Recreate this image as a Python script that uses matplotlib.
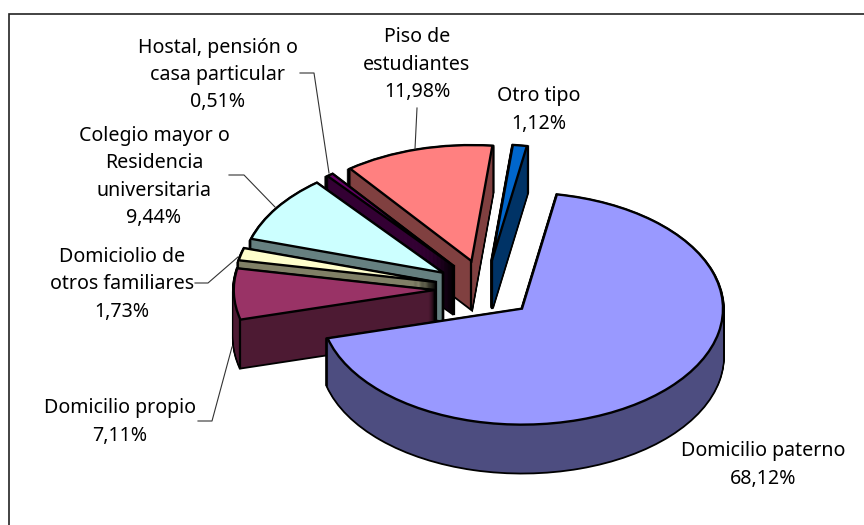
import numpy as np
import matplotlib
matplotlib.use("Agg")
import matplotlib.pyplot as plt
from matplotlib.lines import Line2D

categories = ["Domicilio paterno", "Domicilio propio", "Domiciolio de\notros familiares",
              "Colegio mayor o\nResidencia\nuniversitaria", "Hostal, pensión o\ncasa particular",
              "Piso de\nestudiantes", "Otro tipo"]
values = [68.12, 7.11, 1.73, 9.44, 0.51, 11.98, 1.12]
pct_text = ["68,12%", "7,11%", "1,73%", "9,44%", "0,51%", "11,98%", "1,12%"]
top_colors = ["#9999FF", "#993366", "#FFFFCC", "#CCFFFF", "#660066", "#FF8080", "#0066CC"]
wall_colors = ["#4D4D80", "#4D1A33", "#808066", "#668080", "#330033", "#804040", "#003366"]
draw_rank = [6, 5, 4, 3, 2, 1, 0]   # back-to-front order

W, H = 864, 525
RX, RY = 201.0, 116.0
CX, CY = 485.0, 289.0
DEPTH = 48
EXPLODE = 0.25 * RX
START = 80.0
YS = RX / RY  # data units per pixel in y

fig = plt.figure(figsize=(W / 100, H / 100), dpi=100, facecolor="white")
ax = fig.add_axes([0, 0, 1, 1])


def layer(dy_px, colors, edge, lw, zoffset):
    wedges, _ = ax.pie(values, explode=[EXPLODE] * len(values), colors=colors, startangle=START,
                       counterclock=False, radius=RX,
                       center=(CX, (H - CY - dy_px) * YS),
                       wedgeprops=dict(edgecolor=edge, linewidth=lw, joinstyle="miter"))
    for w, r in zip(wedges, draw_rank):
        w.set_zorder(r * 10 + zoffset)


for d in range(DEPTH, 0, -1):
    layer(d, ["black"] * 7, "black", 2.6, 1)
for d in range(DEPTH, 0, -1):
    layer(d, wall_colors, "none", 0, 2)
layer(0, top_colors, "black", 1.7, 4)

# vertical edges of the extruded walls
edges = np.cumsum([0] + values) / sum(values) * 360.0
for i in range(1, 7):
    mid = np.radians((edges[i] + edges[i + 1]) / 2 + 90 - START)
    ax_x = CX + EXPLODE * np.sin(mid)
    ax_y = (H - CY) * YS + EXPLODE * np.cos(mid)
    ax.add_line(Line2D([ax_x, ax_x], [ax_y, ax_y - DEPTH * YS], color="black", lw=1.6, zorder=draw_rank[i] * 10 + 3))
# outer corner of the front slice
mid = np.radians((edges[1] + edges[2]) / 2 + 90 - START)
ang = np.radians(edges[1] + 90 - START)
x0 = CX + EXPLODE * np.sin(mid) + RX * np.sin(ang)
y0 = (H - CY) * YS + EXPLODE * np.cos(mid) + RX * np.cos(ang)
ax.add_line(Line2D([x0, x0], [y0, y0 - DEPTH * YS], color="black", lw=1.6, zorder=draw_rank[1] * 10 + 3))

ax.set_xlim(0, W)
ax.set_ylim(0, H * YS)
ax.set_aspect("auto")
ax.axis("off")

# overlay in pixel coordinates
ov = fig.add_axes([0, 0, 1, 1], facecolor="none")
ov.set_xlim(0, W)
ov.set_ylim(H, 0)
ov.axis("off")

frame_x = [8.5, 8.5, 864]
frame_y = [525, 14, 14]
ov.plot(frame_x, frame_y, color="#222222", lw=1.2, solid_joinstyle="miter")

leaders = [
    ([300, 314, 329], [73, 73, 173]),
    ([229, 244, 275], [175, 175, 207]),
    ([195, 208, 238], [283, 283, 257]),
    ([198, 212, 232], [421, 421, 347]),
    ([417, 415], [108, 149]),
]
for xs, ys in leaders:
    ov.plot(xs, ys, color="#333333", lw=0.8)

label_pos = [(763, 465), (120, 422), (122, 284), (154, 177), (218, 75), (417, 65), (539, 110)]
for name, pct, (x, y) in zip(categories, pct_text, label_pos):
    ov.text(x, y, f"{name}\n{pct}", ha="center", va="center", fontsize=14.1,
            family="Noto Sans", color="black", linespacing=1.5)

fig.savefig("out.png", dpi=100)
